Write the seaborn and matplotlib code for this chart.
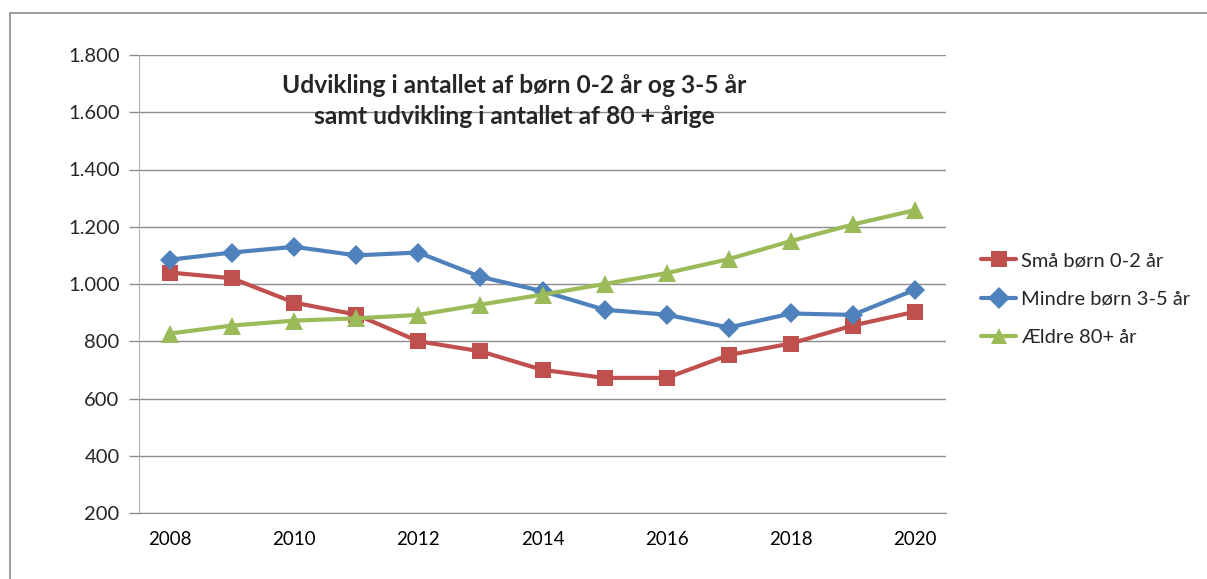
import numpy as np
import pandas as pd
import matplotlib
matplotlib.use("Agg")
import matplotlib.pyplot as plt
import matplotlib.ticker as mticker
from matplotlib.patches import Rectangle
import seaborn as sns

# =========================
# DATA
# =========================

aar = [2008, 2009, 2010, 2011, 2012, 2013, 2014, 2015, 2016, 2017, 2018, 2019, 2020]

smaa_boern = [1040, 1020, 935, 893, 800, 765, 700, 672, 672, 752, 792, 855, 903]
mindre_boern = [1085, 1110, 1130, 1100, 1110, 1025, 975, 910, 893, 848, 897, 892, 980]
aeldre = [827, 855, 872, 880, 892, 928, 963, 1000, 1038, 1087, 1150, 1208, 1258]

serier = ["Små børn 0-2 år", "Mindre børn 3-5 år", "Ældre 80+ år"]
farver = ["#C0504D", "#4F81BD", "#9BBB59"]
markoerer = ["s", "D", "^"]

titel = "Udvikling i antallet af børn 0-2 år og 3-5 år\nsamt udvikling i antallet af 80 + årige"

# =========================
# TABEL
# =========================

df = pd.DataFrame({
    "pos": list(range(len(aar))) * 3,
    "aar": aar * 3,
    "vaerdi": smaa_boern + mindre_boern + aeldre,
    "serie": [serier[0]] * len(aar) + [serier[1]] * len(aar) + [serier[2]] * len(aar),
})

# =========================
# FIGUR
# =========================

sns.set_style("white")
plt.rcParams["font.family"] = ["Lato", "DejaVu Sans"]

fig = plt.figure(figsize=(12.07, 5.79), dpi=100)
ax = fig.add_axes([139 / 1207, 66 / 579, 807 / 1207, 458 / 579])

# ramme rundt om diagrammet
fig.patches.append(Rectangle((10 / 1207, -0.1), 1.2, (579 - 13) / 579 + 0.1,
                             transform=fig.transFigure, fill=False,
                             edgecolor="#8c8c8c", linewidth=1.2))

sns.lineplot(
    data=df, x="pos", y="vaerdi", hue="serie", style="serie",
    hue_order=serier, style_order=serier,
    palette=dict(zip(serier, farver)),
    markers=dict(zip(serier, markoerer)),
    dashes=False, linewidth=3, markersize=11.5,
    markeredgewidth=0, ax=ax,
)

for line, m in zip(ax.lines, markoerer):
    if m == "D":
        line.set_markersize(10.5)
    if m == "^":
        line.set_markersize(12.5)

ax.set_xlim(-0.5, len(aar) - 0.5)
ax.set_ylim(200, 1800)

ax.yaxis.set_major_locator(mticker.MultipleLocator(200))
ax.yaxis.set_major_formatter(mticker.FuncFormatter(lambda v, p: f"{int(v):,}".replace(",", ".")))
ax.grid(axis="y", color="#8c8c8c", linewidth=1)
ax.set_axisbelow(True)

ax.set_xticks(range(0, len(aar), 2))
ax.set_xticklabels([str(a) for a in aar[::2]])
ax.set_xticks(np.arange(-0.5, len(aar) - 1, 2), minor=True)
ax.tick_params(axis="x", which="major", length=0, pad=13, labelsize=13.5, colors="black")
ax.tick_params(axis="x", which="minor", length=7, width=1, color="#8c8c8c", direction="out")
ax.tick_params(axis="y", length=7, width=1, color="#8c8c8c", direction="out",
               labelsize=14.5, pad=7, left=True)

for s in ["top", "right"]:
    ax.spines[s].set_visible(False)
ax.spines["left"].set_color("#b0b0b0")
ax.spines["bottom"].set_color("#8c8c8c")

ax.set_xlabel("")
ax.set_ylabel("")

ax.text(514 / 1207, 1 - 74 / 579, titel, transform=fig.transFigure, ha="center", va="top",
        fontsize=17.7, fontweight="bold", linespacing=1.4)

handles, labels = ax.get_legend_handles_labels()
ax.legend(handles, labels, loc="center left", bbox_to_anchor=(963 / 1207, 1 - 299 / 579),
          bbox_transform=fig.transFigure, frameon=False, fontsize=14.5,
          handlelength=1.75, labelspacing=1.05, handletextpad=0.25)

fig.savefig("out.png", dpi=100)
